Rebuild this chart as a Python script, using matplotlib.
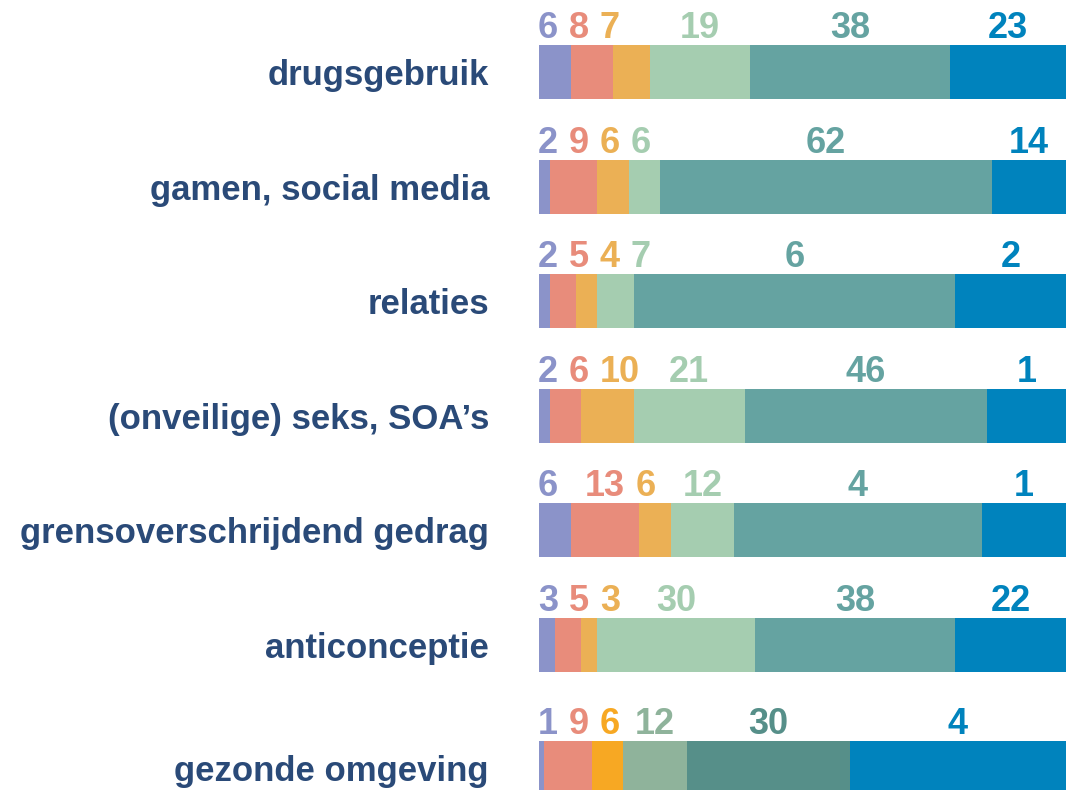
import numpy as np
import matplotlib
matplotlib.use("Agg")
import matplotlib.pyplot as plt

plt.rcParams['font.family'] = ['Liberation Sans', 'DejaVu Sans']

categories = ['drugsgebruik', 'gamen, social media', 'relaties', '(onveilige) seks, SOA\u2019s',
              'grensoverschrijdend gedrag', 'anticonceptie', 'gezonde omgeving']

# segment shares per category (percent)
seg1 = [6, 2, 2, 2, 6, 3, 1]
seg2 = [8, 9, 5, 6, 13, 5, 9]
seg3 = [7, 6, 4, 10, 6, 3, 6]
seg4 = [19, 6, 7, 21, 12, 30, 12]
seg5 = [38, 63, 61, 46, 47, 38, 31]
seg6 = [22, 14, 21, 15, 16, 21, 41]

# number labels as printed above the bars
labels = [
    ['6', '8', '7', '19', '38', '23'],
    ['2', '9', '6', '6', '62', '14'],
    ['2', '5', '4', '7', '6', '2'],
    ['2', '6', '10', '21', '46', '1'],
    ['6', '13', '6', '12', '4', '1'],
    ['3', '5', '3', '30', '38', '22'],
    ['1', '9', '6', '12', '30', '4'],
]

colors = ['#8B93C9', '#E88C7B', '#EBB055', '#A5CDB0', '#65A3A1', '#0083BD']
colors_last = ['#8B93C9', '#E88C7B', '#F7A823', '#8FB39B', '#568F89', '#0083BD']
label_color = '#2A4A78'

W, H = 1066, 790
fig = plt.figure(figsize=(W / 100, H / 100), dpi=100)
bar_left, bar_width_px = 539, 527
ax = fig.add_axes([bar_left / W, 0, bar_width_px / W, 1])
ax.set_xlim(0, 100)
ax.set_ylim(H, 0)

px = 100 / bar_width_px  # percent per pixel
bar_h = 54
centers = [72 + 114.6 * i for i in range(len(categories))]
centers[-1] += 8

data = np.array([seg1, seg2, seg3, seg4, seg5, seg6]).T
for i, row in enumerate(data):
    cols = colors_last if i == len(categories) - 1 else colors
    lefts = np.concatenate([[0], np.cumsum(row)[:-1]])
    ax.barh(centers[i], row, left=lefts, height=bar_h, color=cols, linewidth=0)

    # place number labels: small segments packed from the left, larger ones centred
    top = centers[i] - bar_h / 2
    prev_x, prev_w = None, 0
    for j, (v, l0, txt) in enumerate(zip(row, lefts, labels[i])):
        w = 20 * len(txt) * px
        mid = l0 + v / 2
        if prev_x is None:
            x = 9 * px
        else:
            packed = prev_x + (prev_w + w) / 2 + 11 * px
            x = packed if v < 10 else max(mid, packed)
        ax.text(x, top - 7, txt, ha='center', va='baseline', fontsize=26,
                fontweight='bold', color=cols[j])
        prev_x, prev_w = x, w

ax.set_yticks(centers)
ax.set_yticklabels(categories, fontsize=25, fontweight='bold', color=label_color)
ax.tick_params(axis='y', length=0, pad=36)
ax.set_xticks([])
for s in ax.spines.values():
    s.set_visible(False)

fig.savefig('out.png', dpi=100)
